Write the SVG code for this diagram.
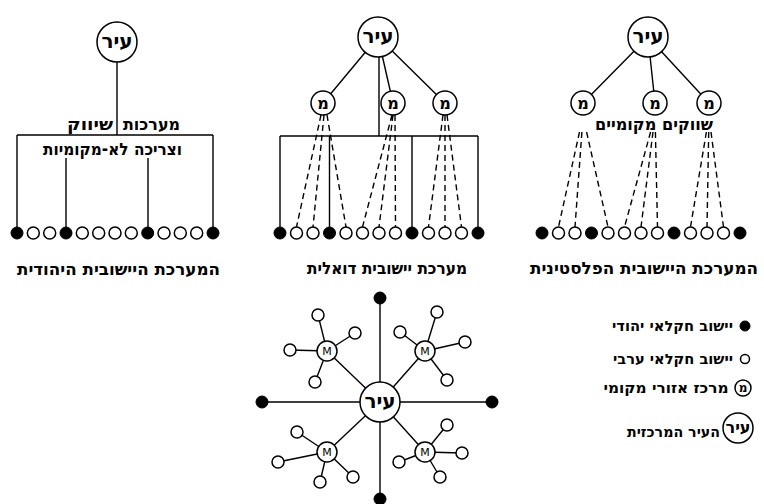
<svg xmlns="http://www.w3.org/2000/svg" width="764" height="504" viewBox="0 0 764 504">
<style>
.ln{stroke:#000;stroke-width:1.4;fill:none}
.ds{stroke:#000;stroke-width:1.4;fill:none;stroke-dasharray:6 4}
.nd{fill:#fff;stroke:#000;stroke-width:1.5}
.fl{fill:#000;stroke:#000;stroke-width:1}
.t{font-family:"DejaVu Sans","Liberation Sans",sans-serif;font-weight:bold;fill:#000;text-anchor:middle;dominant-baseline:central}
.city{font-size:20px}
.mem{font-size:16px}
.lab{font-size:17px}
.leg{font-size:14px}
.rm{font-size:11px;font-weight:normal}
</style>
<defs>
<circle id="o" r="6" class="nd"/>
<circle id="f" r="6" class="fl"/>
<circle id="s" r="6" class="nd"/>
</defs>
<g id="connectors">
<path class="ln" d="M117 62V135M17 135H213M17 135V227M213 135V227M66 158V227M148 158V227"/>
<path class="ln" d="M378 37L323 103M378 37L393 103M378 37L445 103M379 57V136M280 136H478M280 136V227M329.5 136V227M412 136V227M478 136V227"/>
<path class="ds" d="M321 115L296.5 227M324 115L313 227M327 115L346 227M392 115L362.5 227M393 115L379 227M395 115L395.5 227M443 115L428.5 227M445 115L445 227M447 115L461.5 227"/>
<path class="ln" d="M648 37L583 103M648 37L655 103M648 37L709 103"/>
<path class="ds" d="M579.5 132L558.5 227M581.9 132L575 227M586.6 132L608 227M650.6 132L624.5 227M653 132L641 227M655.4 132L657.5 227M706.4 132L690.5 227M708.7 132L707 227M711 132L723.5 227"/>
<path class="ln" d="M380 402V298M380 402V500M380 402H262M380 402H492M380 402L327 351M380 402L425 351M380 402L327 452M380 402L425 452"/>
<path class="ln" d="M327 351L318 315M327 351L355 333M327 351L290 350M327 351L315 382M425 351L437 312M425 351L400 332M425 351L465 342M425 351L447 380M327 452L297 432M327 452L278 462M327 452L320 482M327 452L353 477M425 452L447 425M425 452L399 462M425 452L462 453M425 452L440 477"/>
</g>
<g id="tree1">
<g id="t1-city"><circle cx="117" cy="42" r="20" class="nd"/><text x="117" y="41" class="t city">עיר</text></g>
<g id="t1-nodes">
<use href="#f" x="17" y="233"/><use href="#o" x="33.3" y="233"/><use href="#o" x="49.7" y="233"/><use href="#f" x="66" y="233"/><use href="#o" x="82.3" y="233"/><use href="#o" x="98.7" y="233"/><use href="#o" x="115" y="233"/><use href="#o" x="131.3" y="233"/><use href="#f" x="147.7" y="233"/><use href="#o" x="164" y="233"/><use href="#o" x="180.3" y="233"/><use href="#o" x="196.7" y="233"/><use href="#f" x="213" y="233"/>
</g>
<text x="151.5" y="124" class="t lab" textLength="57" lengthAdjust="spacingAndGlyphs">מערכות</text>
<text x="90" y="124" class="t lab" textLength="46" lengthAdjust="spacingAndGlyphs">שיווק</text>
<text x="112.5" y="149" class="t lab" textLength="139" lengthAdjust="spacingAndGlyphs">וצריכה לא-מקומיות</text>
<text x="118.5" y="269" class="t lab" textLength="203" lengthAdjust="spacingAndGlyphs">המערכת היישובית היהודית</text>
</g>
<g id="tree2">
<g id="t2-city"><circle cx="378" cy="37" r="20" class="nd"/><text x="378" y="36" class="t city">עיר</text></g>
<g id="t2-m1"><circle cx="323" cy="103" r="12" class="nd"/><text x="323" y="103" class="t mem">מ</text></g>
<g id="t2-m2"><circle cx="393" cy="103" r="12" class="nd"/><text x="393" y="103" class="t mem">מ</text></g>
<g id="t2-m3"><circle cx="445" cy="103" r="12" class="nd"/><text x="445" y="103" class="t mem">מ</text></g>
<g id="t2-nodes">
<use href="#f" x="280" y="233"/><use href="#o" x="296.5" y="233"/><use href="#o" x="313" y="233"/><use href="#f" x="329.5" y="233"/><use href="#o" x="346" y="233"/><use href="#o" x="362.5" y="233"/><use href="#o" x="379" y="233"/><use href="#o" x="395.5" y="233"/><use href="#f" x="412" y="233"/><use href="#o" x="428.5" y="233"/><use href="#o" x="445" y="233"/><use href="#o" x="461.5" y="233"/><use href="#f" x="478" y="233"/>
</g>
<text x="387" y="268" class="t lab" textLength="160" lengthAdjust="spacingAndGlyphs">מערכת יישובית דואלית</text>
</g>
<g id="tree3">
<g id="t3-city"><circle cx="648" cy="37" r="20" class="nd"/><text x="648" y="36" class="t city">עיר</text></g>
<g id="t3-m1"><circle cx="583" cy="103" r="12" class="nd"/><text x="583" y="103" class="t mem">מ</text></g>
<g id="t3-m2"><circle cx="655" cy="103" r="12" class="nd"/><text x="655" y="103" class="t mem">מ</text></g>
<g id="t3-m3"><circle cx="709" cy="103" r="12" class="nd"/><text x="709" y="103" class="t mem">מ</text></g>
<g id="t3-nodes">
<use href="#f" x="542" y="233"/><use href="#o" x="558.5" y="233"/><use href="#o" x="575" y="233"/><use href="#f" x="591.5" y="233"/><use href="#o" x="608" y="233"/><use href="#o" x="624.5" y="233"/><use href="#o" x="641" y="233"/><use href="#o" x="657.5" y="233"/><use href="#f" x="674" y="233"/><use href="#o" x="690.5" y="233"/><use href="#o" x="707" y="233"/><use href="#o" x="723.5" y="233"/><use href="#f" x="740" y="233"/>
</g>
<text x="654" y="124" class="t lab" textLength="118" lengthAdjust="spacingAndGlyphs">שווקים מקומיים</text>
<text x="644" y="268" class="t lab" textLength="228" lengthAdjust="spacingAndGlyphs">המערכת היישובית הפלסטינית</text>
</g>
<g id="radial">
<g id="r-city"><circle cx="380" cy="402" r="20" class="nd"/><text x="380" y="401" class="t city">עיר</text></g>
<g id="r-jewish">
<use href="#f" x="380" y="298"/><use href="#f" x="380" y="499"/><use href="#f" x="262" y="402"/><use href="#f" x="492" y="402"/>
</g>
<g id="r-m1"><circle cx="327" cy="351" r="10" class="nd"/><text x="327" y="351" class="t rm">M</text>
<use href="#s" x="318" y="315"/><use href="#s" x="355" y="333"/><use href="#s" x="290" y="350"/><use href="#s" x="315" y="382"/></g>
<g id="r-m2"><circle cx="425" cy="351" r="10" class="nd"/><text x="425" y="351" class="t rm">M</text>
<use href="#s" x="437" y="312"/><use href="#s" x="400" y="332"/><use href="#s" x="465" y="342"/><use href="#s" x="447" y="380"/></g>
<g id="r-m3"><circle cx="327" cy="452" r="10" class="nd"/><text x="327" y="452" class="t rm">M</text>
<use href="#s" x="297" y="432"/><use href="#s" x="278" y="462"/><use href="#s" x="320" y="482"/><use href="#s" x="353" y="477"/></g>
<g id="r-m4"><circle cx="425" cy="452" r="10" class="nd"/><text x="425" y="452" class="t rm">M</text>
<use href="#s" x="447" y="425"/><use href="#s" x="399" y="462"/><use href="#s" x="462" y="453"/><use href="#s" x="440" y="477"/></g>
</g>
<g id="legend">
<g id="leg-jew"><circle cx="745" cy="326" r="5" class="fl"/><text x="672.5" y="326" class="t leg" textLength="121" lengthAdjust="spacingAndGlyphs">יישוב חקלאי יהודי</text></g>
<g id="leg-arab"><circle cx="745" cy="359" r="4.5" class="nd"/><text x="673" y="359" class="t leg" textLength="120" lengthAdjust="spacingAndGlyphs">יישוב חקלאי ערבי</text></g>
<g id="leg-mem"><circle cx="743" cy="388" r="8" class="nd"/><text x="743" y="388" class="t" style="font-size:12px">מ</text><text x="666" y="388" class="t leg" textLength="125" lengthAdjust="spacingAndGlyphs">מרכז אזורי מקומי</text></g>
<g id="leg-city"><circle cx="738" cy="428" r="15" class="nd"/><text x="738" y="427" class="t" style="font-size:16px">עיר</text><text x="673.5" y="432" class="t leg" textLength="93" lengthAdjust="spacingAndGlyphs">העיר המרכזית</text></g>
</g>
</svg>
